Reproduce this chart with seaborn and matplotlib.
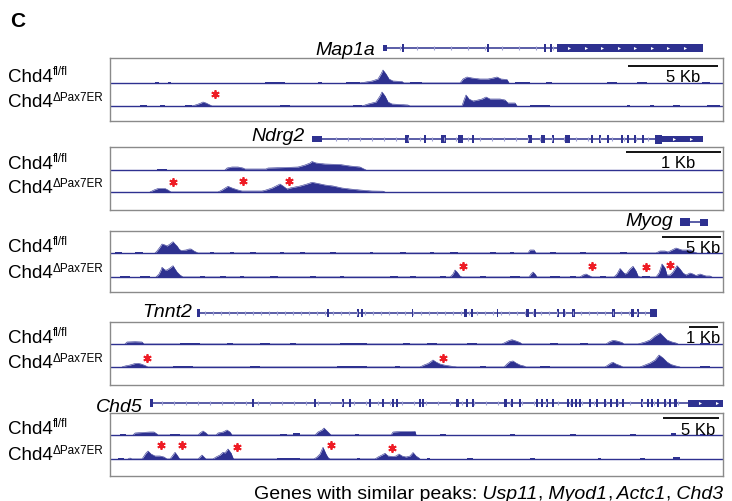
import numpy as np
import matplotlib
matplotlib.use("Agg")
import matplotlib.pyplot as plt
from matplotlib.patches import Rectangle
import seaborn as sns

NAVY = "#2e3190"
LIGHT = "#9c9ed2"
RED = "#ee1c25"

# ---- data (x = locus position, h = signal height) ----
genes = ["Map1a", "Ndrg2", "Myog", "Tnnt2", "Chd5"]
scale_labels = ["5 Kb", "1 Kb", "5 Kb", "1 Kb", "5 Kb"]

map1a_fl = [(250, 0), (256, 1), (262, 2), (268, 4), (271, 9), (273, 13), (276, 9), (279, 4), (283, 2), (292, 1.5), (294, 0),
            (350, 0), (353, 4), (357, 6), (362, 5), (370, 4), (378, 4), (383, 5), (387, 6), (391, 4), (397, 3.5), (399, 0)]
map1a_fl_noise = [(45, 49, 1), (58, 61, 0.8), (155, 175, 1), (208, 212, 1), (236, 250, 1), (300, 312, 1), (405, 420, 1),
                  (436, 442, 1), (497, 507, 1), (527, 537, 1), (592, 600, 1)]
map1a_ko = [(82, 0), (87, 1.5), (91, 3), (93, 4), (96, 3), (100, 1), (102, 0),
            (252, 0), (258, 2), (266, 4), (270, 10), (272, 14), (275, 10), (278, 4), (282, 2), (298, 1), (300, 0),
            (352, 0), (354, 6), (356, 11), (359, 7), (363, 5), (368, 6), (372, 7), (376, 9), (380, 7), (390, 7),
            (395, 6), (398, 3), (405, 3), (407, 0)]
map1a_ko_noise = [(30, 37, 1), (50, 55, 1), (75, 82, 1), (170, 180, 1), (243, 252, 1), (420, 440, 1), (517, 520, 1),
                  (540, 544, 1), (563, 570, 1), (597, 610, 1)]
map1a_stars = [(105, 12)]

ndrg2_fl = [(115, 0), (117, 2), (122, 3), (128, 3), (133, 2), (135, 1), (148, 1), (156, 1), (158, 2), (175, 2.5), (188, 3),
            (195, 5), (200, 7), (202, 8.5), (206, 7), (215, 6), (230, 5.5), (240, 4), (250, 3), (254, 1), (256, 0)]
ndrg2_fl_noise = [(47, 57, 1.5)]
ndrg2_ko = [(40, 0), (44, 2), (48, 3.5), (55, 3.5), (58, 2), (61, 0),
            (108, 0), (112, 2), (116, 4.5), (118, 5.7), (122, 4), (128, 2), (132, 1), (152, 1), (156, 2), (162, 4),
            (166, 6), (170, 8), (173, 6), (177, 3), (180, 4), (190, 6), (197, 8), (202, 9.7), (208, 8.5), (215, 7),
            (223, 6), (232, 4), (240, 3), (250, 2), (262, 1), (273, 0.8), (275, 0)]
ndrg2_ko_noise = []
ndrg2_stars = [(63, 10), (133, 11), (179, 11)]

myog_fl = [(45, 0), (47, 2), (50, 6), (52, 9), (55, 8), (57, 7), (60, 9), (63, 11.3), (65, 9), (67, 7), (69, 4), (71, 2.5),
           (76, 3), (79, 4), (81, 4), (84, 2), (86, 1), (88, 0),
           (418, 0), (420, 3), (424, 3), (426, 0),
           (546, 0), (550, 2), (555, 2), (558, 1), (562, 3), (566, 5), (569, 4), (572, 3), (580, 3), (584, 1), (587, 0)]
myog_fl_noise = [(5, 12, 0.8), (25, 33, 0.8), (100, 104, 1), (120, 124, 1), (140, 146, 1), (170, 174, 1), (190, 195, 1),
                 (220, 226, 1), (260, 263, 1), (290, 296, 1), (320, 324, 1), (340, 348, 1), (380, 386, 1), (400, 404, 1),
                 (440, 446, 1), (470, 476, 1), (510, 517, 1.5), (597, 600, 1)]
myog_ko = [(46, 0), (49, 3), (51, 7), (52, 9.7), (55, 7), (57, 7), (60, 9), (63, 11.3), (65, 8), (67, 5), (70, 2), (73, 0),
           (340, 0), (343, 3), (345, 7), (347, 5), (350, 1), (352, 0),
           (419, 0), (421, 3), (423, 5), (425, 3), (427, 0),
           (470, 0), (473, 2), (476, 3), (479, 1.5), (482, 0),
           (504, 0), (507, 3), (510, 8.5), (513, 5), (515, 3), (517, 4), (520, 8), (523, 10.7), (526, 6), (528, 1), (530, 0),
           (546, 0), (549, 4), (552, 13), (555, 9), (557, 2), (560, 2), (563, 5), (567, 11.3), (570, 8), (573, 4), (576, 2),
           (580, 4), (583, 3), (586, 1.5), (590, 3), (593, 2), (596, 1), (600, 1), (602, 0)]
myog_ko_noise = [(10, 20, 0.8), (30, 40, 0.8), (90, 95, 1), (110, 116, 1), (130, 134, 1), (160, 168, 1), (200, 206, 1),
                 (230, 234, 1), (280, 288, 1), (300, 306, 1), (330, 336, 1), (370, 376, 1), (400, 410, 1), (440, 450, 1),
                 (460, 466, 1), (490, 496, 1), (532, 540, 1)]
myog_stars = [(353, 11), (482, 11), (536, 10), (560, 12)]

tnnt2_fl = [(15, 0), (17, 2), (25, 2.3), (32, 2), (34, 0),
            (392, 0), (396, 2), (399, 3.5), (402, 4.3), (406, 3), (410, 1.5), (412, 0),
            (496, 0), (499, 2), (503, 3.7), (507, 3), (512, 1.5), (514, 0),
            (528, 0), (535, 2), (540, 4), (545, 8), (550, 11), (553, 8), (557, 4), (562, 2), (566, 1), (568, 0)]
tnnt2_fl_noise = [(70, 90, 1.5), (117, 123, 1), (150, 160, 1), (180, 186, 1), (230, 257, 1.5), (293, 300, 1), (317, 327, 1),
                  (357, 367, 1), (440, 448, 1), (470, 478, 1), (590, 600, 1)]
tnnt2_ko = [(12, 0), (15, 1), (20, 2), (25, 3.5), (28, 3.7), (31, 3), (35, 1.5), (38, 0),
            (310, 0), (314, 2), (318, 3.5), (321, 5.5), (323, 7), (326, 5), (330, 3), (334, 2), (340, 1), (347, 0),
            (394, 0), (397, 3), (400, 5.5), (403, 6), (406, 4), (410, 2), (414, 1), (416, 0),
            (495, 0), (498, 2), (501, 4), (503, 4.7), (506, 3), (510, 1.5), (513, 0),
            (530, 0), (535, 2), (540, 4), (545, 7), (549, 12), (553, 9), (557, 5), (561, 2.5), (566, 1), (570, 0)]
tnnt2_ko_noise = [(63, 83, 1), (140, 150, 1), (227, 257, 1), (285, 290, 1), (370, 376, 1), (430, 440, 1), (590, 600, 1)]
tnnt2_stars = [(37, 9), (333, 9)]

chd5_fl = [(23, 0), (25, 2), (32, 2.5), (40, 3), (44, 3), (47, 1), (48, 0),
           (88, 0), (90, 2), (93, 4), (96, 2), (98, 0),
           (106, 0), (108, 2), (113, 3), (117, 5), (120, 3), (122, 0),
           (205, 0), (208, 3), (212, 5), (214, 7), (217, 4), (219, 2), (221, 0),
           (281, 0), (283, 3), (290, 3.5), (300, 3.5), (305, 3.7), (306, 0)]
chd5_fl_noise = [(10, 16, 1), (60, 70, 1), (170, 177, 1.5), (183, 190, 2.5), (245, 249, 1), (330, 336, 1), (400, 405, 1),
                 (460, 466, 1), (520, 526, 1), (561, 566, 2.5), (590, 595, 1)]
chd5_ko = [(18, 0), (20, 1), (22, 0),
           (32, 0), (34, 3), (36, 6), (38, 8), (41, 5), (45, 3), (50, 3), (54, 2), (57, 0),
           (60, 0), (63, 4), (65, 6.7), (67, 4), (69, 1), (70, 0),
           (88, 0), (90, 2), (92, 4), (94, 2), (96, 0),
           (103, 0), (106, 2), (110, 4), (113, 6.7), (115, 6), (118, 10), (121, 6), (123, 1), (124, 0),
           (204, 0), (207, 2), (210, 5), (213, 11.7), (216, 5), (218, 1.5), (220, 0),
           (265, 0), (268, 2), (272, 4), (275, 5.7), (278, 3), (283, 2.5), (286, 3), (289, 5), (292, 3), (296, 2),
           (300, 3), (303, 6.5), (306, 3), (309, 1), (310, 0)]
chd5_ko_noise = [(8, 14, 1), (167, 190, 1.5), (247, 250, 1), (317, 320, 1), (357, 363, 1.5), (420, 425, 1), (488, 491, 1),
                 (530, 535, 1), (563, 570, 2)]
chd5_stars = [(51, 14), (72, 14), (127, 12), (221, 14), (282, 11)]

# gene models: intron line span, exons (position, width), thick blocks (start, end, half height)
map1a_line = (273, 593)
map1a_exons = [(293, 1.5), (378, 1.2), (435, 1.5), (441, 1.5)]
map1a_thick = [(273, 277, 3), (447, 593, 4)]
ndrg2_line = (202, 593)
ndrg2_exons = [(297, 4), (315, 1.5), (333, 5), (350, 5), (363, 1.5), (420, 4), (433, 4), (443, 1.5), (457, 5),
               (482, 1.5), (490, 1.5), (498, 1.5), (512, 1.5), (518, 1.5), (525, 1.5), (533, 1.5)]
ndrg2_thick = [(202, 212, 3), (545, 552, 4.5), (552, 593, 3)]
myog_line = (570, 598)
myog_exons = []
myog_thick = [(570, 580, 4), (590, 598, 3.5)]
tnnt2_line = (87, 546)
tnnt2_exons = [(218, 1.5), (248, 1.5), (252, 1.5), (302, 1), (355, 3), (362, 1.5), (387, 1), (417, 3), (425, 1.5),
               (448, 1.5), (454, 1.5), (463, 3), (503, 3), (522, 3), (528, 1.5)]
tnnt2_thick = [(87, 90, 4), (540, 547, 4)]
chd5_line = (40, 613)
chd5_exons = [(143, 2), (205, 2), (233, 2), (240, 2), (260, 2), (273, 2), (283, 2), (287, 2), (310, 2), (313, 2),
              (347, 3), (357, 2), (363, 2), (395, 3), (402, 2), (410, 2), (427, 2), (432, 2), (437, 2), (443, 2),
              (458, 2), (462, 2), (466, 2), (470, 2), (480, 2), (487, 2), (495, 2), (501, 2), (507, 2), (513, 2),
              (532, 2), (538, 2), (542, 2), (548, 2), (555, 2), (560, 2), (565, 3)]
chd5_thick = [(40, 43, 4), (578, 613, 3.5)]

tracks_fl = [map1a_fl, ndrg2_fl, myog_fl, tnnt2_fl, chd5_fl]
noise_fl = [map1a_fl_noise, ndrg2_fl_noise, myog_fl_noise, tnnt2_fl_noise, chd5_fl_noise]
tracks_ko = [map1a_ko, ndrg2_ko, myog_ko, tnnt2_ko, chd5_ko]
noise_ko = [map1a_ko_noise, ndrg2_ko_noise, myog_ko_noise, tnnt2_ko_noise, chd5_ko_noise]
stars = [map1a_stars, ndrg2_stars, myog_stars, tnnt2_stars, chd5_stars]
gene_lines = [map1a_line, ndrg2_line, myog_line, tnnt2_line, chd5_line]
gene_exons = [map1a_exons, ndrg2_exons, myog_exons, tnnt2_exons, chd5_exons]
gene_thick = [map1a_thick, ndrg2_thick, myog_thick, tnnt2_thick, chd5_thick]

# ---- layout (pixels of the 732x502 canvas) ----
W, H = 732, 502
X0, X1 = 110, 723
layout = [
    dict(top=59, bottom=122, fl=38, ko=15, gy=73, title=(265, 67), bar=(518, 608, 55), kb=(590, 40), step=17),
    dict(top=148, bottom=211, fl=40, ko=18, gy=71, title=(195, 70), bar=(516, 611, 58), kb=(585, 43), step=12),
    dict(top=232, bottom=293, fl=39, ko=15, gy=70, title=(563, 67), bar=(552, 611, 55), kb=(610, 40), step=9),
    dict(top=323, bottom=386, fl=41, ko=18, gy=72, title=(82, 69), bar=(579, 608, 58), kb=(610, 43), step=8),
    dict(top=414, bottom=477, fl=41, ko=17, gy=73, title=(33, 65), bar=(553, 609, 58), kb=(605, 42), step=12),
]

sns.set_theme(style="white")
plt.rcParams["font.family"] = ["Liberation Sans", "DejaVu Sans"]
plt.rcParams["text.color"] = "black"

fig = plt.figure(figsize=(W / 100, H / 100), dpi=100)
renderer = fig.canvas.get_renderer()


def text_run(ax, x, y, parts, size):
    # parts: (string, style, raise) drawn left to right
    inv = ax.transData.inverted()
    for s, style, dy in parts:
        t = ax.text(x, y + dy, s, fontsize=size if dy == 0 else size * 0.62, fontstyle=style,
                    ha="left", va="baseline", color="black", clip_on=False)
        bb = t.get_window_extent(renderer=renderer)
        x = inv.transform((bb.x1, bb.y0))[0]


def draw_track(ax, base, pts, noise):
    vx = np.array([p[0] for p in pts], dtype=float)
    vh = np.array([p[1] for p in pts], dtype=float)
    ax.fill_between(vx, base, base + vh, color=NAVY, lw=0)
    sns.lineplot(x=vx, y=base + vh, ax=ax, color=NAVY, lw=0.4, estimator=None, sort=False)
    if noise:
        ax.bar([n[0] for n in noise], [n[2] for n in noise], width=[n[1] - n[0] for n in noise],
               bottom=base, align="edge", color=NAVY, lw=0)
    ax.axhline(base, color=NAVY, lw=1.0)


def draw_gene(ax, y, line, exons, thick, step):
    ax.plot(line, [y, y], color=NAVY, lw=1.1, clip_on=False, solid_capstyle="butt")
    ticks = np.arange(line[0] + step, line[1], step)
    ticks = [t for t in ticks if not any(a - 2 <= t <= b + 2 for a, b, _ in thick)]
    ax.plot(ticks, [y] * len(ticks), ls="none", marker="|", ms=3.2, mew=0.8, color=LIGHT, clip_on=False)
    for x, w in exons:
        ax.add_patch(Rectangle((x - w / 2, y - 4), w, 8, color=NAVY, lw=0, clip_on=False))
    for a, b, hh in thick:
        ax.add_patch(Rectangle((a, y - hh), b - a, 2 * hh, color=NAVY, lw=0, clip_on=False))
        if b - a > 30:
            ch = np.arange(a + 12, b - 4, 16.5)
            ax.plot(ch, [y] * len(ch), ls="none", marker=">", ms=2.2, mew=0, color="white", clip_on=False)


for i, lay in enumerate(layout):
    h = lay["bottom"] - lay["top"]
    ax = fig.add_axes([X0 / W, 1 - lay["bottom"] / H, (X1 - X0) / W, h / H])
    ax.set_xlim(0, X1 - X0)
    ax.set_ylim(0, h)
    ax.set_xticks([])
    ax.set_yticks([])
    for sp in ax.spines.values():
        sp.set_color("#8a8a8a")
        sp.set_linewidth(1.0)

    draw_track(ax, lay["fl"], tracks_fl[i], noise_fl[i])
    draw_track(ax, lay["ko"], tracks_ko[i], noise_ko[i])

    sx = [s[0] for s in stars[i]]
    sy = [lay["ko"] + s[1] for s in stars[i]]
    ax.plot(sx, sy, ls="none", marker=(6, 2, 0), ms=6, mew=1.3, color=RED)

    draw_gene(ax, lay["gy"], gene_lines[i], gene_exons[i], gene_thick[i], lay["step"])
    ax.text(lay["title"][0], lay["title"][1], genes[i], fontsize=14, fontstyle="italic",
            ha="right", va="baseline", clip_on=False)

    bx0, bx1, by = lay["bar"]
    ax.plot([bx0, bx1], [by, by], color="black", lw=1.3, solid_capstyle="butt")
    ax.text(lay["kb"][0], lay["kb"][1], scale_labels[i], fontsize=12, ha="right", va="baseline")

    lx = 8 - X0
    text_run(ax, lx, lay["fl"] + 2, [("Chd4", "normal", 0), ("fl/fl", "normal", 7)], 13.5)
    text_run(ax, lx, lay["ko"], [("Chd4", "normal", 0), ("\u0394Pax7ER", "normal", 6)], 13.5)

fig.text(10 / W, 1 - 27 / H, "C", fontsize=15, fontweight="bold", ha="left", va="baseline")

# footer, drawn right to left so it ends at the panel edge
footer = [("Genes with similar peaks:", "normal"), (" Usp11", "italic"), (",", "normal"), (" Myod1", "italic"),
          (",", "normal"), (" Actc1", "italic"), (",", "normal"), (" Chd3", "italic")]
xr = 723 / W
inv = fig.transFigure.inverted()
for s, style in reversed(footer):
    t = fig.text(xr, 1 - 499 / H, s, fontsize=14, fontstyle=style, ha="right", va="baseline")
    bb = t.get_window_extent(renderer=renderer)
    xr = inv.transform((bb.x0, bb.y0))[0]

fig.savefig("out.png", dpi=100)
